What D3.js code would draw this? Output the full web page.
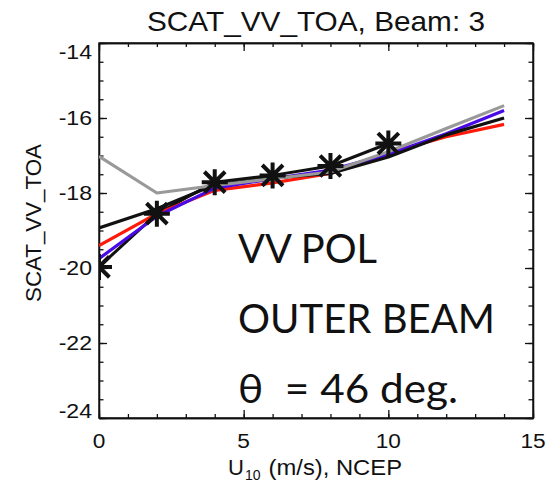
<!DOCTYPE html>
<html>
<head>
<meta charset="utf-8">
<script src="https://cdn.jsdelivr.net/npm/d3@7"></script>
<style>
  body { margin: 0; background: #fff; }
  text { font-family: "Liberation Sans", Arial, sans-serif; fill: #111; }
  .axis path, .axis line { stroke: #111; stroke-width: 1.3; }
</style>
</head>
<body>
<svg id="chart" width="554" height="482"></svg>
<script>
// wind speed nodes (m/s) and sigma0 (dB)
const windSpeed = [0, 2, 4, 6, 8, 10, 12, 14]
const starWind = [0, 2, 4, 6, 8, 10]
const starValues = [-19.97, -18.55, -17.71, -17.53, -17.28, -16.68]
const redModel = [-19.4, -18.55, -17.93, -17.73, -17.48, -16.93, -16.5, -16.17]
const blueModel = [-19.75, -18.62, -17.87, -17.62, -17.39, -16.97, -16.42, -15.8]
const blackModel = [-18.93, -18.42, -17.78, -17.6, -17.48, -17.04, -16.45, -16.0]
const grayModel = [-17.02, -18.0, -17.8, -17.62, -17.44, -16.9, -16.28, -15.67]
const xTickValues = [0, 5, 10, 15]
const yTickValues = [-24, -22, -20, -18, -16, -14]
const annotation = ['VV POL', 'OUTER BEAM', 'θ  = 46 deg.']

const width = 554
const height = 482
const margin = { top: 43, right: 21, bottom: 64, left: 99 }
const innerW = width - margin.left - margin.right
const innerH = height - margin.top - margin.bottom

const svg = d3.select('#chart')
const g = svg.append('g').attr('transform', `translate(${margin.left}, ${margin.top})`)

svg.append('defs').append('clipPath').attr('id', 'plot-clip')
  .append('rect').attr('width', innerW).attr('height', innerH)

const x = d3.scaleLinear().domain([0, 15]).range([0, innerW])
const y = d3.scaleLinear().domain([-24, -14]).range([innerH, 0])

const xMinor = d3.range(0, 16, 1)
const yMinor = d3.range(-24, -13.9, 0.5)

// minor ticks on all four sides
const minor = [
  [d3.axisBottom(x).tickValues(xMinor), `translate(0, ${innerH})`, -4],
  [d3.axisTop(x).tickValues(xMinor), 'translate(0, 0)', -4],
  [d3.axisLeft(y).tickValues(yMinor), 'translate(0, 0)', -4.5],
  [d3.axisRight(y).tickValues(yMinor), `translate(${innerW}, 0)`, -4.5]
]
minor.forEach(([axis, tr, size]) => {
  g.append('g').attr('class', 'axis').attr('transform', tr)
    .call(axis.tickSize(size).tickSizeOuter(0).tickFormat(''))
})

// major ticks
const major = [
  [d3.axisBottom(x).tickValues(xTickValues), `translate(0, ${innerH})`],
  [d3.axisTop(x).tickValues(xTickValues), 'translate(0, 0)'],
  [d3.axisLeft(y).tickValues(yTickValues), 'translate(0, 0)'],
  [d3.axisRight(y).tickValues(yTickValues), `translate(${innerW}, 0)`]
]
major.forEach(([axis, tr]) => {
  g.append('g').attr('class', 'axis').attr('transform', tr)
    .call(axis.tickSize(-8).tickSizeOuter(0).tickFormat(''))
})

g.append('rect')
  .attr('width', innerW).attr('height', innerH)
  .attr('fill', 'none').attr('stroke', '#111').attr('stroke-width', 1.4)

// tick labels (IDL keeps end labels inside the axis range)
g.selectAll('.xlab').data(xTickValues).enter().append('text')
  .attr('class', 'xlab')
  .attr('x', (d) => x(d))
  .attr('y', innerH + 30)
  .attr('text-anchor', 'middle')
  .attr('font-size', 21)
  .attr('transform', (d) => `translate(${x(d)},0) scale(1.08,1) translate(${-x(d)},0)`)
  .text((d) => d)

g.selectAll('.ylab').data(yTickValues).enter().append('text')
  .attr('class', 'ylab')
  .attr('x', -7)
  .attr('y', (d) => Math.min(Math.max(y(d), 8), innerH - 7.5) + 7.5)
  .attr('text-anchor', 'end')
  .attr('font-size', 21)
  .attr('transform', `translate(-7,0) scale(1.1,1) translate(7,0)`)
  .text((d) => d)

// titles
svg.append('text')
  .attr('x', 147).attr('y', 31)
  .attr('font-size', 27.5)
  .attr('textLength', 338).attr('lengthAdjust', 'spacingAndGlyphs')
  .text('SCAT_VV_TOA, Beam: 3')

svg.append('text')
  .attr('transform', 'translate(41, 223) rotate(-90)')
  .attr('text-anchor', 'middle')
  .attr('font-size', 22.5)
  .attr('textLength', 158).attr('lengthAdjust', 'spacingAndGlyphs')
  .text('SCAT_VV_TOA')

const xt = svg.append('text').attr('y', 475).attr('font-size', 22)
xt.append('tspan').attr('x', 228).text('U')
xt.append('tspan').attr('font-size', 14).attr('dy', 5).attr('dx', 1).text('10')
svg.append('text')
  .attr('x', 262).attr('y', 475)
  .attr('font-size', 22)
  .attr('textLength', 140).attr('lengthAdjust', 'spacingAndGlyphs')
  .style('white-space', 'pre')
  .text(' (m/s), NCEP')

// model curves
const line = d3.line()
  .x((d) => x(d[0]))
  .y((d) => y(d[1]))

const plot = g.append('g').attr('clip-path', 'url(#plot-clip)')

const starLine = d3.zip(starWind, starValues)
plot.append('path').datum(starLine)
  .attr('d', line).attr('fill', 'none')
  .attr('stroke', '#111').attr('stroke-width', 3)

const series = [
  { values: redModel, color: '#ff1a0a' },
  { values: blueModel, color: '#4a0ae6' },
  { values: blackModel, color: '#111111' },
  { values: grayModel, color: '#999999' }
]
series.forEach((s) => {
  plot.append('path').datum(d3.zip(windSpeed, s.values))
    .attr('d', line).attr('fill', 'none')
    .attr('stroke', s.color).attr('stroke-width', 3.2)
    .attr('stroke-linejoin', 'round')
})

// asterisk markers
const r = 13
const k = 0.8
const armPath = `M${-r},0H${r}M0,${-r}V${r}` +
  `M${-r * k},${-r * k}L${r * k},${r * k}` +
  `M${-r * k},${r * k}L${r * k},${-r * k}`
plot.selectAll('.star').data(starLine).enter().append('path')
  .attr('class', 'star')
  .attr('transform', (d) => `translate(${x(d[0])}, ${y(d[1])})`)
  .attr('d', armPath)
  .attr('stroke', '#111').attr('stroke-width', 4)

// annotation
const ann = [139, 257, 220]
annotation.forEach((t, i) => {
  svg.append('text')
    .attr('x', 238).attr('y', 263 + i * 70)
    .attr('font-size', 41.5)
    .attr('textLength', ann[i]).attr('lengthAdjust', 'spacingAndGlyphs')
    .style('white-space', 'pre')
    .style('font-family', 'Lato, "Open Sans", sans-serif')
    .text(t)
})
</script>
</body>
</html>
